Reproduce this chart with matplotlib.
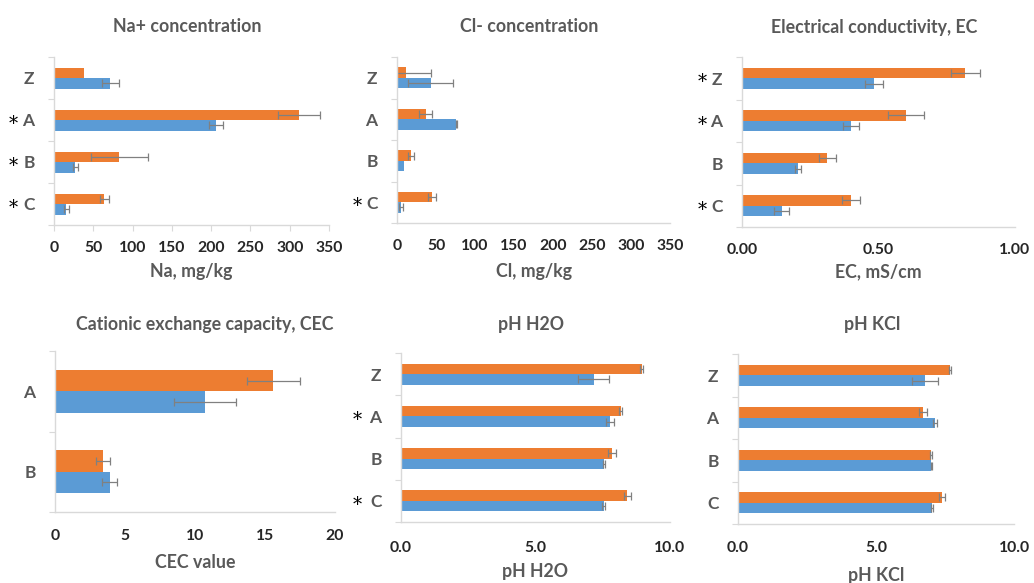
import matplotlib
matplotlib.use("Agg")
import matplotlib.pyplot as plt
import numpy as np

# ---------------- data ----------------
cats4 = ["Z", "A", "B", "C"]
cats2 = ["A", "B"]

na_orange = [38.5, 312, 83, 64]
na_orange_err = [np.nan, 27, 36.5, 6]
na_blue = [71.5, 206, 27, 15.7]
na_blue_err = [11, 8.5, 3, 3]
na_star = ["A", "B", "C"]

cl_orange = [12, 36.7, 18, 45]
cl_orange_err = [31.6, 8.5, 3.4, 5.3]
cl_blue = [43, 76, 8.5, 4.7]
cl_blue_err = [29, 1, np.nan, 2.5]
cl_star = ["C"]

ec_orange = [0.818, 0.600, 0.313, 0.400]
ec_orange_err = [0.052, 0.065, 0.030, 0.034]
ec_blue = [0.482, 0.399, 0.205, 0.145]
ec_blue_err = [0.033, 0.030, 0.012, 0.026]
ec_star = ["Z", "A", "C"]

cec_orange = [15.6, 3.4]
cec_orange_err = [1.9, 0.5]
cec_blue = [10.7, 3.9]
cec_blue_err = [2.2, 0.55]
cec_star = []

phw_orange = [8.95, 8.16, 7.83, 8.42]
phw_orange_err = [0.05, 0.06, 0.15, 0.12]
phw_blue = [7.17, 7.77, 7.55, 7.54]
phw_blue_err = [0.58, 0.15, 0.05, 0.06]
phw_star = ["A", "C"]

phk_orange = [7.69, 6.71, 6.98, 7.38]
phk_orange_err = [0.03, 0.15, 0.04, 0.11]
phk_blue = [6.77, 7.13, 7.01, 7.03]
phk_blue_err = [0.46, 0.08, 0.03, 0.05]
phk_star = []

# ---------------- style ----------------
W, H = 1034, 583
ORANGE = "#ED7D31"
BLUE = "#5B9BD5"
GRAY_TXT = "#595959"
TICK_TXT = "#262626"
SPINE = "#D9D9D9"
ERR = "#808080"
FONT = "Lato"

fig = plt.figure(figsize=(W / 100, H / 100), dpi=100)


def px_axes(x0, y0, x1, y1):
    return fig.add_axes([x0 / W, 1 - y1 / H, (x1 - x0) / W, (y1 - y0) / H])


def ftext(x, y, s, **kw):
    fig.text(x / W, 1 - y / H, s, **kw)


def panel(box, cats, orange, oerr, blue, berr, stars, xlim, xticks, xticklabels,
          title, title_y, xlabel, xlabel_y, bar_h=0.25, xticklen=0, xpad=11.5,
          star_x=None, title_dx=-4):
    x0, y0, x1, y1 = box
    ax = px_axes(x0, y0, x1, y1)
    n = len(cats)
    ypos = np.arange(n)[::-1].astype(float)
    ekw = dict(ecolor=ERR, elinewidth=0.9, capsize=3, capthick=0.9)
    ax.barh(ypos + bar_h / 2, orange, height=bar_h, color=ORANGE,
            xerr=oerr, error_kw=ekw, zorder=2)
    ax.barh(ypos - bar_h / 2, blue, height=bar_h, color=BLUE,
            xerr=berr, error_kw=ekw, zorder=2)
    ax.set_xlim(*xlim)
    ax.set_ylim(-0.5, n - 0.5)
    ax.set_xticks(xticks)
    ax.set_xticklabels(xticklabels, fontfamily=FONT, fontweight="bold",
                       fontsize=11.3, color=TICK_TXT)
    ax.set_yticks(ypos)
    ax.set_yticklabels(cats, fontfamily=FONT, fontweight="bold",
                       fontsize=12.5, color=GRAY_TXT)
    ax.set_yticks(np.arange(n + 1) - 0.5, minor=True)
    ax.tick_params(axis="y", which="major", length=0, pad=14)
    ax.tick_params(axis="y", which="minor", length=4, color=SPINE, width=0.8)
    ax.tick_params(axis="x", which="major", length=xticklen, color=SPINE,
                   width=0.8, pad=xpad)
    for s in ("top", "right"):
        ax.spines[s].set_visible(False)
    for s in ("left", "bottom"):
        ax.spines[s].set_color(SPINE)
        ax.spines[s].set_linewidth(1.0)
    cx = (x0 + x1) / 2
    ftext(cx + title_dx, title_y, title, ha="center", va="center", fontfamily=FONT,
          fontweight="bold", fontsize=12.8, color=GRAY_TXT)
    ftext(cx, xlabel_y, xlabel, ha="center", va="center", fontfamily=FONT,
          fontweight="bold", fontsize=12.8, color=GRAY_TXT)
    # asterisks
    for c in stars:
        i = cats.index(c)
        yp = ypos[i]
        ypix = y0 + (n - 0.5 - yp) / n * (y1 - y0)
        ftext(x0 - (star_x if star_x else 40), ypix + 4, "*", ha="center",
              va="center", fontfamily="DejaVu Serif", fontsize=13, color="black")
    return ax


panel((54, 57, 329, 225), cats4, na_orange, na_orange_err, na_blue, na_blue_err,
      na_star, (0, 350), [0, 50, 100, 150, 200, 250, 300, 350],
      ["0", "50", "100", "150", "200", "250", "300", "350"],
      "Na+ concentration", 27, "Na, mg/kg", 272, xticklen=4, xpad=7.5, star_x=41)

panel((397, 57, 670, 223), cats4, cl_orange, cl_orange_err, cl_blue, cl_blue_err,
      cl_star, (0, 350), [0, 50, 100, 150, 200, 250, 300, 350],
      ["0", "50", "100", "150", "200", "250", "300", "350"],
      "Cl- concentration", 27, "Cl, mg/kg", 272, star_x=40)

panel((742, 57, 1015, 227), cats4, ec_orange, ec_orange_err, ec_blue, ec_blue_err,
      ec_star, (0, 1.0), [0, 0.5, 1.0], ["0.00", "0.50", "1.00"],
      "Electrical conductivity, EC", 27, "EC, mS/cm", 272, star_x=40)

panel((55, 351, 335, 512), cats2, cec_orange, cec_orange_err, cec_blue, cec_blue_err,
      cec_star, (0, 20), [0, 5, 10, 15, 20], ["0", "5", "10", "15", "20"],
      "Cationic exchange capacity, CEC", 325, "CEC value", 563,
      bar_h=0.265, xpad=12.5, title_dx=10)

panel((401, 353, 670, 522), cats4, phw_orange, phw_orange_err, phw_blue, phw_blue_err,
      phw_star, (0, 10), [0, 5, 10], ["0.0", "5.0", "10.0"],
      "pH H2O", 325, "pH H2O", 572, xpad=13.5, star_x=44)

panel((738, 354, 1014, 524), cats4, phk_orange, phk_orange_err, phk_blue, phk_blue_err,
      phk_star, (0, 10), [0, 5, 10], ["0.0", "5.0", "10.0"],
      "pH KCl", 325, "pH KCl", 575, xpad=12)

fig.savefig("out.png", dpi=100)
